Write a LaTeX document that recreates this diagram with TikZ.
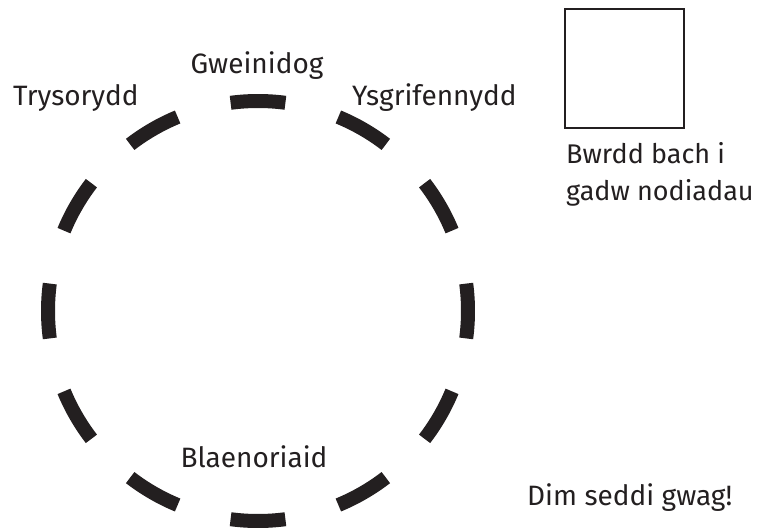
\documentclass[tikz,border=0pt]{standalone}
\usepackage{fontspec}
\setmainfont{Fira Sans}
\usetikzlibrary{calc}
\definecolor{ink}{HTML}{231F20}
\begin{document}
\begin{tikzpicture}[x=1pt,y=-1pt,
  lbl/.style={font=\fontsize{28}{37}\selectfont, text=ink, inner sep=0pt, anchor=base},
  seat/.style={line width=14pt, draw=ink, line cap=butt}]
\useasboundingbox (0,0) rectangle (760,532);
\coordinate (c) at (258,311);
\foreach \i in {0,...,11}{
  \draw[seat] ($(c)+({90+30*\i-7.5}:210)$) arc[start angle={90+30*\i-7.5}, end angle={90+30*\i+7.5}, radius=210];
}
\node[lbl] (gw) at (257,74) {Gweinidog};
\node[lbl, anchor=base west] (tr) at (13,106) {Trysorydd};
\node[lbl, anchor=base west] (ys) at (352,106) {Ysgrifennydd};
\node[lbl] (bl) at (254,467) {Blaenoriaid};
\node[lbl, anchor=base west] (dim) at (527,505) {Dim seddi gwag!};
\node[draw=ink, line width=2pt, minimum width=119pt, minimum height=119pt, inner sep=0pt] (bw) at (624.5,68.5) {};
\node[lbl, font=\fontsize{27}{37}\selectfont, anchor=base west, align=left] (bt) at (566,200) {Bwrdd bach i\\gadw nodiadau};
\end{tikzpicture}
\end{document}
